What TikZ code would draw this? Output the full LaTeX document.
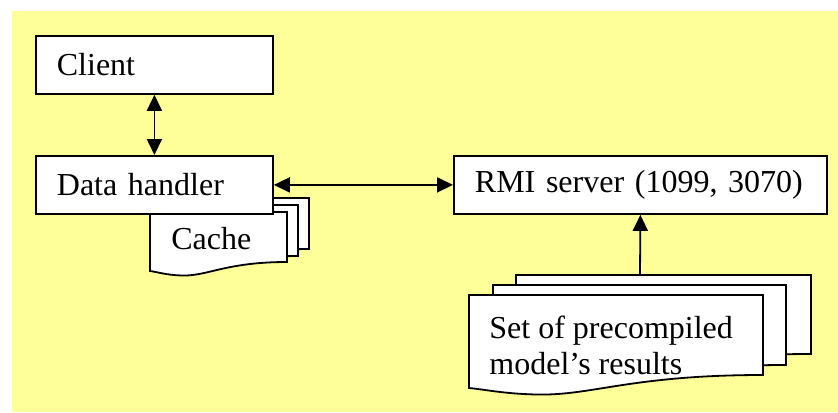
\documentclass[tikz,border=0pt]{standalone}
\usepackage{fontspec}
\setmainfont{Liberation Serif}
\usetikzlibrary{arrows.meta}
\definecolor{notepad}{HTML}{FFFF99}
\tikzset{
  unitbox/.style={draw=black, fill=white, line width=0.9pt, anchor=north west,
    align=left, inner xsep=10.5pt, inner ysep=0pt, minimum height=29pt,
    font=\fontsize{16}{18}\selectfont},
  pagedoc/.style={draw=black, fill=white, line width=0.9pt},
  doctext/.style={inner sep=0pt, align=left, anchor=base west,
    font=\fontsize{16}{18}\selectfont},
  link/.style={{Triangle[length=8pt,width=7.5pt]}-{Triangle[length=8pt,width=7.5pt]},
    line width=0.9pt},
  feed/.style={-{Triangle[length=8pt,width=7.5pt]}, line width=0.9pt},
}
% page with a wavy lower edge: left, top, right, bottom (right side), drop
\newcommand{\docpage}[5]{%
  \draw[pagedoc] (#1,#2) -- (#3,#2) -- (#3,#4)
    .. controls ({#3-0.45*(#3-#1)},{#4}) and ({#1+0.42*(#3-#1)},{#4+1.6*#5})
    .. ({#1+0.23*(#3-#1)},{#4+1.5*#5})
    .. controls ({#1+0.12*(#3-#1)},{#4+1.45*#5}) and ({#1+0.05*(#3-#1)},{#4+1.1*#5})
    .. ({#1},{#4+#5}) -- cycle;}

\begin{document}
\begin{tikzpicture}[x=0.5pt,y=-0.5pt]
  \useasboundingbox (0,0) rectangle (838,412);
  \fill[notepad] (12,11) rectangle (838,412);

  % cache pages
  \docpage{172}{198}{309}{249}{9}
  \docpage{161}{205}{298}{256}{9}
  \docpage{150}{212}{287}{262}{9}
  \node[doctext] (cache) at (171,249) {Cache};

  % precompiled results pages
  \docpage{516}{275}{811}{354}{13}
  \docpage{493}{285}{786}{365}{13}
  \docpage{469}{295}{763}{375}{13}
  \node[doctext, anchor=north west] (results) at (489,316)
       {Set of precompiled\\model’s results};
  \coordinate (settop) at (640,275);

  \node[unitbox, text width=97.5pt] (client) at (35,35) {Client};
  \node[unitbox, text width=97.5pt] (data) at (35,155) {Data handler};
  \node[unitbox, text width=165.5pt] (rmi) at (453,155) {RMI server (1099, 3070)};

  \draw[link] (client.south) -- (data.north);
  \draw[link] (data.east) -- (rmi.west);
  \draw[feed] (settop) -- (rmi.south);
\end{tikzpicture}
\end{document}
